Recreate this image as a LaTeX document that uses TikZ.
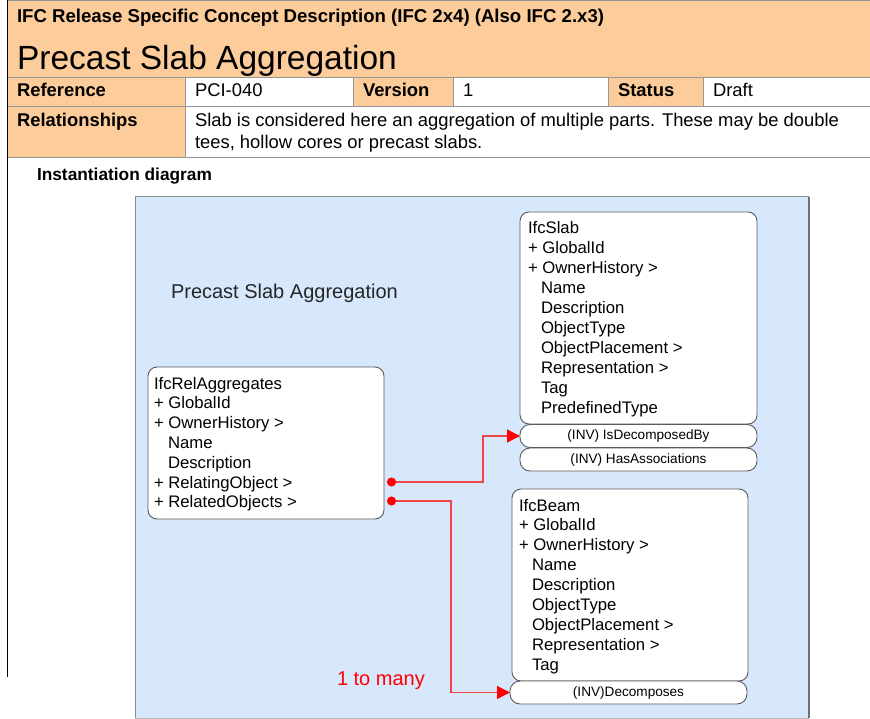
\documentclass[tikz,border=0pt]{standalone}
\usepackage{fontspec}
\setmainfont{Liberation Sans}
\usetikzlibrary{arrows.meta}
\definecolor{hdr}{RGB}{252,204,155}
\definecolor{panelfill}{RGB}{215,232,252}
\definecolor{panelline}{RGB}{140,140,140}
\definecolor{rowline}{RGB}{150,150,150}
\definecolor{boxline}{RGB}{90,90,90}
\definecolor{relred}{RGB}{240,70,70}
\begin{document}
\begin{tikzpicture}[x=1pt,y=-1pt,
  every node/.style={inner sep=0pt,outer sep=0pt},
  cell/.style={anchor=base west,font=\fontsize{18.4}{21}\selectfont},
  cellb/.style={cell,font=\fontsize{18.4}{21}\selectfont\bfseries},
  attr/.style={anchor=base west,font=\fontsize{16.7}{19}\selectfont},
  classbox/.style={draw=boxline,fill=white,rounded corners=9pt,line width=0.9pt},
  invbox/.style={draw=boxline,fill=white,rounded corners=10pt,line width=0.9pt},
  invtext/.style={font=\fontsize{13.6}{16}\selectfont},
  conn/.style={draw=relred,line width=1.3pt,{Circle[length=9pt,fill=red,color=red]}-{Triangle[length=13pt,width=13pt,fill=red,color=red]}}
]
\useasboundingbox (0,0) rectangle (870,719);
% ---------- header table ----------
\fill[hdr] (7,0) rectangle (870,157);
\fill[white] (185,77) rectangle (353,106);
\fill[white] (453,77) rectangle (608,106);
\fill[white] (703,77) rectangle (870,106);
\fill[white] (185,106) rectangle (870,157);
\draw[rowline,line width=0.8pt] (7,0.5) -- (870,0.5);
\draw[rowline,line width=0.8pt] (7,77) -- (870,77);
\draw[rowline,line width=0.8pt] (7,106) -- (870,106);
\draw[rowline,line width=0.8pt] (7,157) -- (870,157);
\draw[rowline,line width=0.8pt] (185,77) -- (185,157);
\foreach \xx in {353,453,608,703} \draw[rowline,line width=0.8pt] (\xx,77) -- (\xx,106);
\draw[black,line width=1pt] (7,0) -- (7,677);

\node[anchor=base west,font=\fontsize{18.6}{21}\selectfont\bfseries] (hdrline) at (17,23) {IFC Release Specific Concept Description (IFC 2x4) (Also IFC 2.x3)};
\node[anchor=base west,font=\fontsize{33.5}{40}\selectfont] (title) at (17,70) {Precast Slab Aggregation};
\node[cellb] (refk) at (17,97) {Reference};
\node[cell] (refv) at (195,97) {PCI-040};
\node[cellb] (verk) at (363,97) {Version};
\node[cell] (verv) at (463,97) {1};
\node[cellb] (stak) at (618,97) {Status};
\node[cell] (stav) at (713,97) {Draft};
\node[cellb] (relk) at (17,127) {Relationships};
\node[cell] (relv1) at (195,127) {Slab is considered here an aggregation of multiple parts. These may be double};
\node[cell] (relv2) at (195,149) {tees, hollow cores or precast slabs.};
\node[anchor=base west,font=\fontsize{17.3}{20}\selectfont\bfseries] (inst) at (37,181) {Instantiation diagram};

% ---------- panel ----------
\fill[panelfill] (135,197) rectangle (809,718);
\draw[panelline,line width=1pt] (135,718) -- (135,197) -- (809,197);
\draw[panelline!80!black,line width=1.6pt] (809,197) -- (809,718);
\draw[panelline!60,line width=1pt] (135,718) -- (809,718);
\node[anchor=base west,font=\fontsize{20}{23}\selectfont,text=black!85] (plabel) at (171,299) {Precast Slab Aggregation};

% ---------- IfcRelAggregates ----------
\draw[classbox] (148,367) rectangle (384,519);
\node[attr] (a0) at (154,389) {IfcRelAggregates};
\node[attr] (a1) at (154,408.8) {+ GlobalId};
\node[attr] (a2) at (154,428.6) {+ OwnerHistory >};
\node[attr] (a3) at (168,448.4) {Name};
\node[attr] (a4) at (168,468.2) {Description};
\node[attr] (a5) at (154,488) {+ RelatingObject >};
\node[attr] (a6) at (154,507.8) {+ RelatedObjects >};

% ---------- IfcSlab ----------
\draw[classbox] (520,212) rectangle (757,424);
\node[attr] (s0) at (528,234) {IfcSlab};
\node[attr] (s1) at (528,253.9) {+ GlobalId};
\node[attr] (s2) at (528,273.8) {+ OwnerHistory >};
\node[attr] (s3) at (541,293.7) {Name};
\node[attr] (s4) at (541,313.6) {Description};
\node[attr] (s5) at (541,333.5) {ObjectType};
\node[attr] (s6) at (541,353.4) {ObjectPlacement >};
\node[attr] (s7) at (541,373.3) {Representation >};
\node[attr] (s8) at (541,393.2) {Tag};
\node[attr] (s9) at (541,413.1) {PredefinedType};
\node[invbox,minimum width=237pt,minimum height=23pt,invtext] (isdec) at (638.5,436) {(INV) IsDecomposedBy};
\node[invbox,minimum width=237pt,minimum height=23pt,invtext] (hasassoc) at (638.5,459.5) {(INV) HasAssociations};

% ---------- IfcBeam ----------
\draw[classbox] (512,489) rectangle (748,681);
\node[attr] (b0) at (519,511) {IfcBeam};
\node[attr] (b1) at (519,530.9) {+ GlobalId};
\node[attr] (b2) at (519,550.8) {+ OwnerHistory >};
\node[attr] (b3) at (532,570.7) {Name};
\node[attr] (b4) at (532,590.6) {Description};
\node[attr] (b5) at (532,610.5) {ObjectType};
\node[attr] (b6) at (532,630.4) {ObjectPlacement >};
\node[attr] (b7) at (532,650.3) {Representation >};
\node[attr] (b8) at (532,670.2) {Tag};
\node[invbox,minimum width=237pt,minimum height=23pt,invtext] (decomp) at (628.5,692.5) {(INV)Decomposes};

% ---------- connectors ----------
\coordinate (p1) at (387,482);
\coordinate (p2) at (387,501);
\draw[conn] (p1) -- (483,482) |- (isdec.west);
\draw[conn] (p2) -- (451,501) |- (decomp.west);
\node[anchor=base west,font=\fontsize{20}{23}\selectfont,text=red] (many) at (337,685) {1 to many};
\end{tikzpicture}
\end{document}
